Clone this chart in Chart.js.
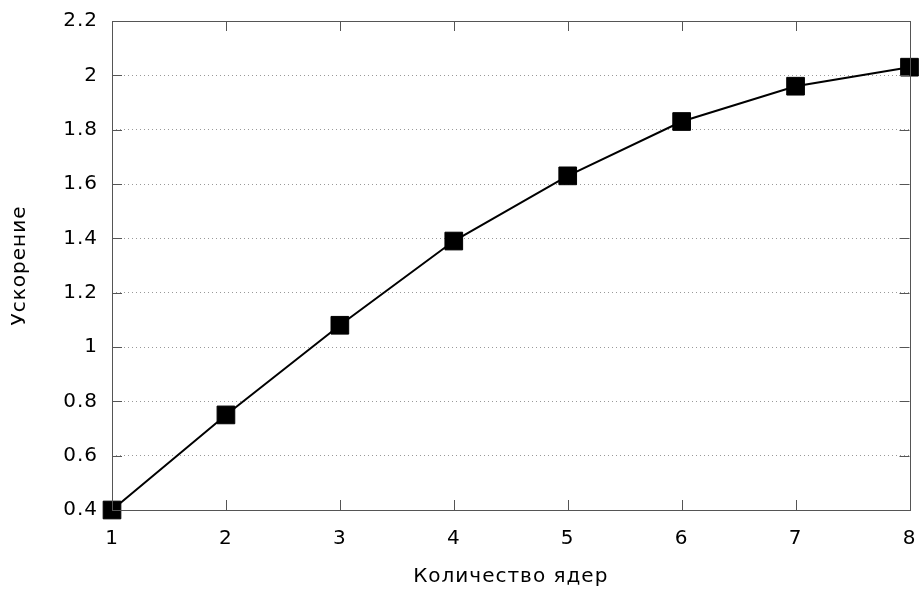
<!DOCTYPE html>
<html>
<head>
<meta charset="utf-8">
<script src="https://cdn.jsdelivr.net/npm/chart.js@4"></script>
<style>
  body { margin: 0; background: #fff; }
  #wrap { width: 923px; height: 592px; }
</style>
</head>
<body>
<div id="wrap"><canvas id="grafico"></canvas></div>
<script>
var yadra = [1, 2, 3, 4, 5, 6, 7, 8];
var uskorenie = [0.40, 0.75, 1.08, 1.39, 1.63, 1.83, 1.96, 2.03];
var yTicks = [0.4, 0.6, 0.8, 1, 1.2, 1.4, 1.6, 1.8, 2, 2.2];

Chart.defaults.font.family = '"DejaVu Sans", Verdana, sans-serif';
Chart.defaults.font.size = 20;
Chart.defaults.color = '#000';

// шрифт чуть шире, как у gnuplot
var razryadka = {
  id: 'razryadka',
  beforeLayout: function (chart) { chart.ctx.letterSpacing = '1px'; },
  beforeDraw: function (chart) { chart.ctx.letterSpacing = '1px'; }
};

// рамка и засечки внутрь, как в gnuplot
var ramka = {
  id: 'ramka',
  afterDraw: function (chart) {
    var c = chart.ctx, a = chart.chartArea;
    var sx = chart.scales.x, sy = chart.scales.y;
    var t = 10;
    c.save();
    c.strokeStyle = '#555';
    c.lineWidth = 1;
    c.beginPath();
    sx.ticks.forEach(function (tk) {
      var px = Math.round(sx.getPixelForValue(tk.value)) + 0.5;
      c.moveTo(px, a.bottom); c.lineTo(px, a.bottom - t);
      c.moveTo(px, a.top); c.lineTo(px, a.top + t);
    });
    sy.ticks.forEach(function (tk) {
      var py = Math.round(sy.getPixelForValue(tk.value)) + 0.5;
      c.moveTo(a.left, py); c.lineTo(a.left + t, py);
      c.moveTo(a.right, py); c.lineTo(a.right - t, py);
    });
    c.stroke();
    c.strokeRect(Math.round(a.left) + 0.5, Math.round(a.top) + 0.5,
      Math.round(a.right - a.left), Math.round(a.bottom - a.top));
    c.restore();
  }
};

var ctx = document.getElementById('grafico').getContext('2d');
var grafico = new Chart(ctx, {
  type: 'line',
  data: {
    datasets: [{
      data: yadra.map(function (x, i) { return { x: x, y: uskorenie[i] }; }),
      borderColor: '#000',
      backgroundColor: '#000',
      borderWidth: 2,
      pointStyle: 'rect',
      pointRadius: 12.5,
      pointBorderWidth: 1,
      pointBorderColor: '#000',
      pointBackgroundColor: '#000',
      clip: false,
      tension: 0
    }]
  },
  options: {
    responsive: true,
    maintainAspectRatio: false,
    animation: false,
    layout: { padding: { top: 21, right: 9, left: 0, bottom: 0 } },
    plugins: {
      legend: { display: false },
      tooltip: { enabled: false }
    },
    scales: {
      x: {
        type: 'linear',
        min: 1,
        max: 8,
        ticks: { stepSize: 1, padding: 17, maxRotation: 0 },
        grid: { display: false, drawTicks: false },
        border: { display: false },
        title: { display: true, text: 'Количество ядер', padding: { top: 4, bottom: 3 } },
        afterFit: function (s) { s.height = 82; s.paddingLeft = 0; s.paddingRight = 0; }
      },
      y: {
        type: 'linear',
        min: 0.4,
        max: 2.2,
        afterBuildTicks: function (s) {
          s.ticks = yTicks.map(function (v) { return { value: v }; });
        },
        ticks: {
          padding: 14,
          callback: function (v) { return String(Math.round(v * 10) / 10); }
        },
        grid: {
          drawTicks: false,
          color: function (c) {
            var v = c.tick && c.tick.value;
            return (v <= 0.41 || v >= 2.19) ? 'rgba(0,0,0,0)' : '#999';
          },
          lineWidth: 1
        },
        border: { display: false, dash: [1, 3] },
        title: { display: true, text: 'Ускорение', padding: { top: 8, bottom: 4 } },
        afterFit: function (s) { s.width = 112; s.paddingTop = 0; s.paddingBottom = 0; }
      }
    }
  },
  plugins: [razryadka, ramka]
});
</script>
</body>
</html>
